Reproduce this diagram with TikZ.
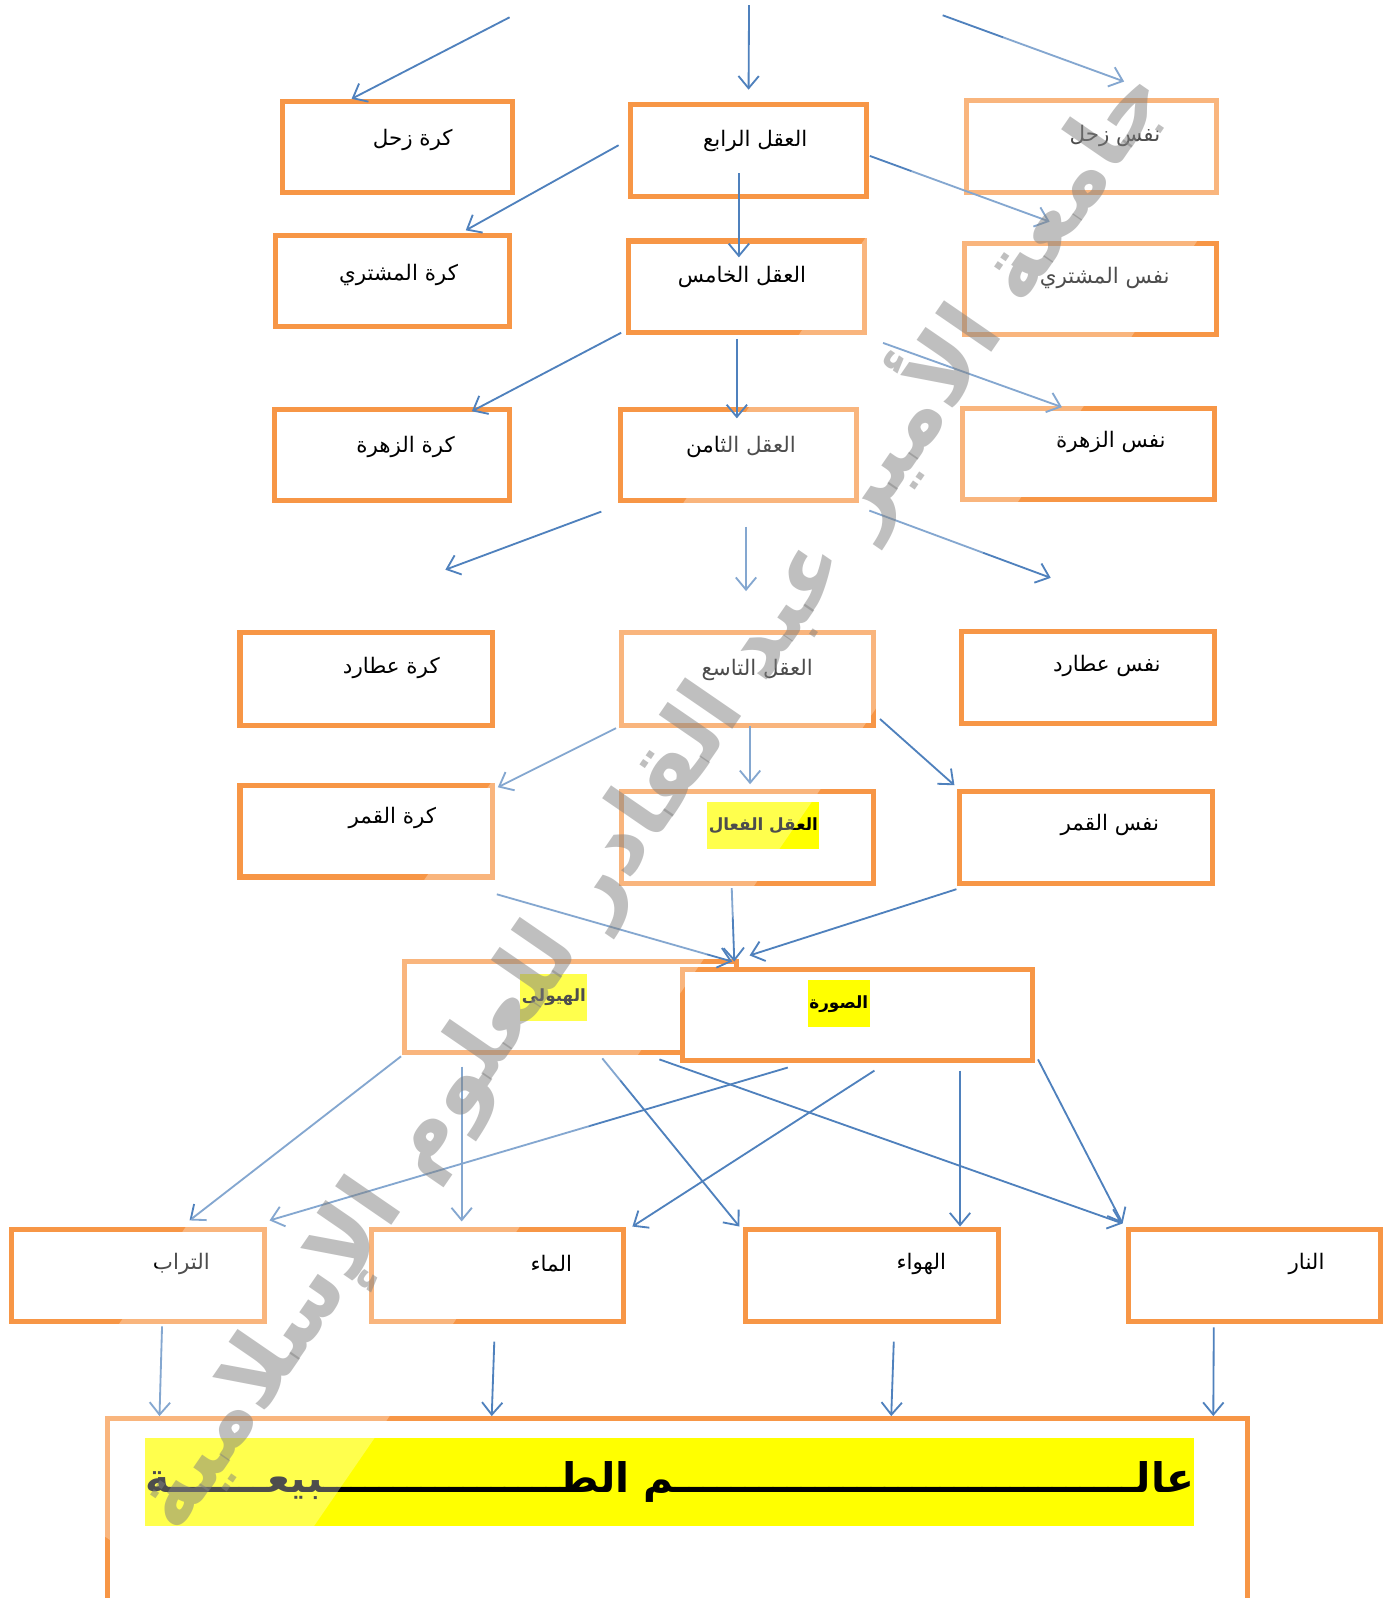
\documentclass[tikz,border=0pt]{standalone}
\usepackage{fontspec}
\newfontfamily\arabicfont[Script=Arabic]{DejaVu Sans}
\TeXXeTstate=1
\usetikzlibrary{arrows.meta,positioning,calc}
\definecolor{boxorange}{HTML}{F79646}
\definecolor{arrowblue}{HTML}{4F81BD}
\definecolor{hiyellow}{HTML}{FFFF00}
\newcommand{\artxt}[1]{\beginR #1\endR}

\begin{document}
\begin{tikzpicture}[x=1pt, y=-1pt,
    box/.style={draw=boxorange, line width=5pt, fill=white, minimum width=248pt, minimum height=90pt, inner sep=0pt},
    lbl/.style={font=\arabicfont\fontsize{21}{25}\selectfont, inner sep=1pt},
    hl/.style={font=\arabicfont\bfseries\fontsize{16.5}{20}\selectfont, fill=hiyellow, inner xsep=1.5pt, inner ysep=0pt, minimum height=46pt},
    arr/.style={draw=arrowblue, line width=1.8pt, -{Straight Barb[length=12pt, width=20pt]}}]
  \useasboundingbox[fill=white] (0,0) rectangle (1365,1568);

  % Spheres (left column)
  \node[box, minimum width=225pt, minimum height=89pt] (kzuhal) at (390,144) {};
  \node[box, minimum width=229pt, minimum height=89pt] (kmush) at (385,276) {};
  \node[box, minimum width=230pt] (kzuhra) at (384.5,446.5) {};
  \node[box, minimum height=91pt] (katarid) at (359.5,666) {};
  \node[box] (kqamar) at (359.5,815.5) {};

  % Intellects (middle column)
  \node[box, minimum width=232pt] (aql4) at (734.5,147.5) {};
  \node[box, minimum width=232pt] (aql5) at (732.5,281.5) {};
  \node[box, minimum width=232pt] (aql8) at (724.5,446.5) {};
  \node[box, minimum height=91pt] (aql9) at (733.5,666) {};
  \node[box] (faal) at (733.5,821.5) {};

  % Souls (right column)
  \node[box, minimum width=245pt] (nzuhal) at (1071,143.5) {};
  \node[box, minimum width=247pt] (nmush) at (1070,283.5) {};
  \node[box, minimum width=247pt] (nzuhra) at (1068,445.5) {};
  \node[box] (natarid) at (1067.5,664.5) {};
  \node[box] (nqamar) at (1065.5,821.5) {};

  % Matter and form
  \node[box, minimum width=326pt, minimum height=89pt] (hayula) at (559.5,988) {};
  \node[box, minimum width=344pt, minimum height=89pt] (sura) at (841.5,996) {};

  % Elements
  \node[box] (turab) at (135.5,1251.5) {};
  \node[box, minimum width=247pt] (maa) at (488,1251.5) {};
  \node[box] (hawaa) at (855.5,1251.5) {};
  \node[box, minimum width=247pt] (nar) at (1231,1251.5) {};

  % World of nature
  \node[box, minimum width=1119pt, minimum height=260pt] (alam) at (665,1521.5) {};

  % Labels
  \node[lbl] (kzuhal-l) at (405,137) {\artxt{كرة زحل}};
  \node[lbl] (kmush-l) at (391,270) {\artxt{كرة المشتري}};
  \node[lbl] (kzuhra-l) at (398,439) {\artxt{كرة الزهرة}};
  \node[lbl] (katarid-l) at (384,655) {\artxt{كرة عطارد}};
  \node[lbl] (kqamar-l) at (385,803) {\artxt{كرة القمر}};
  \node[lbl] (aql4-l) at (741,138) {\artxt{العقل الرابع}};
  \node[lbl] (aql5-l) at (728,272) {\artxt{العقل الخامس}};
  \node[lbl] (aql8-l) at (727,439) {\artxt{العقل الثامن}};
  \node[lbl] (aql9-l) at (743,657) {\artxt{العقل التاسع}};
  \node[hl] (faal-l) at (749,810) {\artxt{العقل الفعال}};
  \node[lbl] (nzuhal-l) at (1094,133) {\artxt{نفس زحل}};
  \node[lbl] (nmush-l) at (1084,273) {\artxt{نفس المشتري}};
  \node[lbl] (nzuhra-l) at (1090,434) {\artxt{نفس الزهرة}};
  \node[lbl] (natarid-l) at (1086,653) {\artxt{نفس عطارد}};
  \node[lbl] (nqamar-l) at (1089,809) {\artxt{نفس القمر}};
  \node[hl] (hayula-l) at (543.5,978.5) {\artxt{الهيولى}};
  \node[hl] (sura-l) at (823,985) {\artxt{الصورة}};
  \node[lbl] (turab-l) at (178,1240) {\artxt{التراب}};
  \node[lbl] (maa-l) at (541,1240) {\artxt{الماء}};
  \node[lbl] (hawaa-l) at (904,1240) {\artxt{الهواء}};
  \node[lbl] (nar-l) at (1282,1240) {\artxt{النار}};
  \node[fill=hiyellow, minimum width=1026pt, minimum height=86pt, inner sep=0pt,
        font=\arabicfont\bfseries\fontsize{40}{46}\selectfont] (alam-l) at (657,1454)
    {\artxt{عالـــــــــــــــــــــــــــــــــم الطـــــــــــــــــبيعـــــــة}};

  % Free ends
  \coordinate (s1) at (500,17);
  \coordinate (s2) at (735,5);
  \coordinate (s3) at (925,15);
  \coordinate (s10a) at (590,502);
  \coordinate (s10b) at (437,559);
  \coordinate (s11a) at (732,517);
  \coordinate (s11b) at (732,580);
  \coordinate (s12a) at (853,501);
  \coordinate (s12b) at (1031,567);

  % Arrows, top rows
  \draw[arr] (s1) -- ($(kzuhal.north)+(-45,0)$);
  \draw[arr] (s2) -- ($(aql4.north)+(0,-12)$);
  \draw[arr] (s3) -- ($(nzuhal.north)+(32,-16)$);
  \draw[arr] ($(aql4.west)+(-9,-5)$) -- ($(kmush.north)+(72,-3)$);
  \draw[arr] ($(aql4.center)+(-9.5,22.5)$) -- ($(aql5.north)+(-7.5,18.5)$);
  \draw[arr] ($(aql4.east)+(0.5,5.5)$) -- ($(nmush.north)+(-40,-18.5)$);
  \draw[arr] ($(aql5.south west)+(-4.5,-2.5)$) -- ($(kzuhra.north)+(78.5,4.5)$);
  \draw[arr] ($(aql5.south)+(-9.5,3.5)$) -- ($(aql8.north)+(-1.5,11.5)$);
  \draw[arr] ($(aql5.south east)+(15.5,7.5)$) -- ($(nzuhra.north)+(-26,1.5)$);
  \draw[arr] (s10a) -- (s10b);
  \draw[arr] (s11a) -- (s11b);
  \draw[arr] (s12a) -- (s12b);
  \draw[arr] ($(aql9.south west)+(-2.5,0.5)$) -- ($(kqamar.north east)+(2.5,4.5)$);
  \draw[arr] ($(aql9.south)+(2.5,-1.5)$) -- ($(faal.north)+(2.5,-4.5)$);
  \draw[arr] ($(aql9.south east)+(3.5,-8.5)$) -- ($(nqamar.north west)+(-2.5,-3.5)$);

  % Arrows into matter and form
  \draw[arr] ($(kqamar.south east)+(1.5,14.5)$) -- ($(hayula.north east)+(-6.5,2.5)$);
  \draw[arr] ($(faal.south)+(-15.5,2.5)$) -- ($(hayula.north east)+(-4.5,2.5)$);
  \draw[arr] ($(nqamar.south west)+(-0.5,3.5)$) -- ($(hayula.north east)+(10.5,-3.5)$);

  % Arrows to the elements
  \draw[arr] ($(hayula.south west)+(-0.5,1.5)$) -- ($(turab.north)+(50.5,-6.5)$);
  \draw[arr] ($(hayula.south)+(-106.5,11.5)$) -- ($(maa.north)+(-35,-5.5)$);
  \draw[arr] ($(hayula.south)+(31.5,3.5)$) -- ($(hawaa.north west)+(-3.5,-0.5)$);
  \draw[arr] ($(hayula.south)+(87.5,4.5)$) -- ($(nar.north west)+(-3.5,-3.5)$);
  \draw[arr] ($(sura.south)+(-68.5,4.5)$) -- ($(turab.north east)+(2.5,-6.5)$);
  \draw[arr] ($(sura.south)+(16.5,7.5)$) -- ($(maa.north east)+(6.5,-0.5)$);
  \draw[arr] ($(sura.south)+(100.5,7.5)$) -- ($(hawaa.north)+(86.5,-0.5)$);
  \draw[arr] ($(sura.south east)+(2.5,-3.5)$) -- ($(nar.north west)+(-3.5,-3.5)$);

  % Arrows to the world of nature
  \draw[arr] ($(turab.south)+(23.5,2.5)$) -- ($(alam.north west)+(53.5,0.5)$);
  \draw[arr] ($(maa.south)+(-3,17.5)$) -- ($(alam.north west)+(379.5,0.5)$);
  \draw[arr] ($(hawaa.south)+(21.5,17.5)$) -- ($(alam.north west)+(771.5,0.5)$);
  \draw[arr] ($(nar.south)+(-40,3.5)$) -- ($(alam.north west)+(1087.5,0.5)$);

  % Watermark
  \node[fill=white, opacity=0.3, rotate=55.5, minimum width=1800pt, minimum height=270pt] (wm-band) at (636,782) {};
  \node[rotate=55.5, text=black!50, opacity=0.5, font=\arabicfont\bfseries\fontsize{88}{96}\selectfont] (wm) at (636,782)
    {\artxt{جامعة الأمير عبد القادر للعلوم الإسلامية}};
\end{tikzpicture}
\end{document}
